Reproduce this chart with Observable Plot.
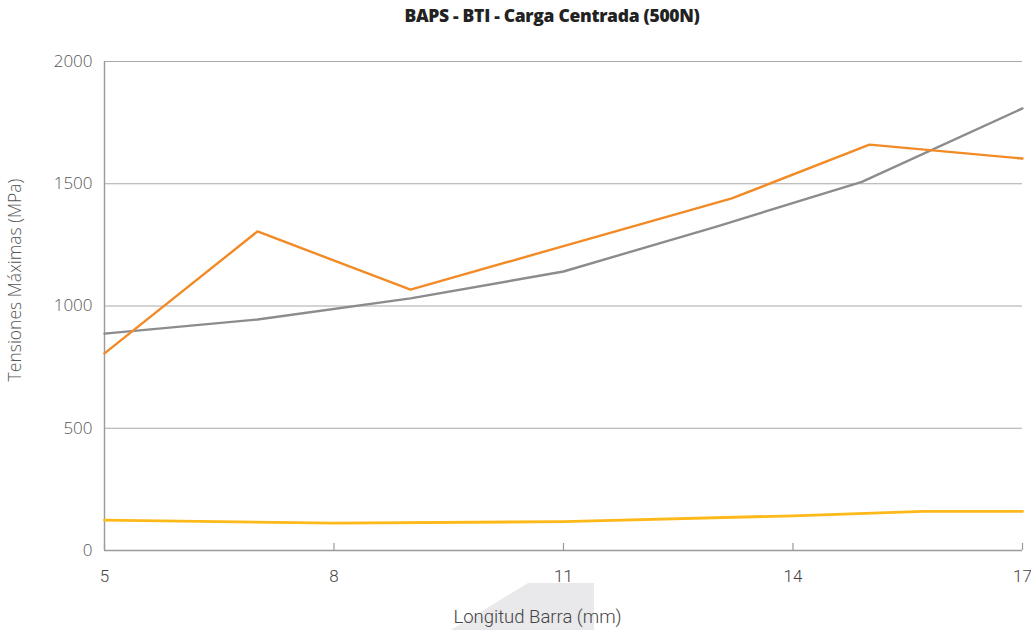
<!DOCTYPE html>
<html><head><meta charset="utf-8">
<script src="https://cdn.jsdelivr.net/npm/d3@7"></script>
<script src="https://cdn.jsdelivr.net/npm/@observablehq/plot@0.6"></script>
<style>
html,body{margin:0;padding:0;background:#fff}
body{width:1031px;height:630px;overflow:hidden;position:relative;font-family:Roboto,sans-serif}
#title{position:absolute;top:3px;left:552px;transform:translateX(-50%);white-space:nowrap;font-family:'Open Sans',sans-serif;font-weight:800;font-size:17.5px;letter-spacing:-0.3px;color:#222}
#deco{position:absolute;left:0;top:0}
#chart{position:absolute;left:0;top:36px}
#chart svg{background:transparent}
</style></head>
<body>
<svg id="deco" width="1031" height="630"><polygon points="528,583 594,583 594,630 451,630" fill="#e9e9eb"/></svg>
<div id="title">BAPS - BTI - Carga Centrada (500N)</div>
<div id="chart"></div>
<script>
// Data
const orangeX = [5, 7, 9, 11, 13.2, 15, 17];
const orangeY = [806, 1305, 1067, 1245, 1440, 1660, 1603];
const grayX = [5, 7, 9, 11, 13, 14.9, 17];
const grayY = [887, 945, 1031, 1141, 1325, 1508, 1808];
const yellowX = [5, 8, 11, 14, 15.7, 17];
const yellowY = [124, 112, 118, 142, 160, 160];
const xTicks = [5, 8, 11, 14, 17];
const yTicks = [0, 500, 1000, 1500, 2000];
const xLabel = "Longitud Barra (mm)";
const yLabel = "Tensiones Máximas (MPa)";

const rows = [];
orangeX.forEach((x, i) => rows.push({serie: "orange", x, y: orangeY[i]}));
grayX.forEach((x, i) => rows.push({serie: "gray", x, y: grayY[i]}));
yellowX.forEach((x, i) => rows.push({serie: "yellow", x, y: yellowY[i]}));

const colors = {orange: "#f28a26", gray: "#8c8c8f", yellow: "#fdb819"};

const chart = Plot.plot({
  width: 1031, height: 594,
  marginTop: 25, marginBottom: 80, marginLeft: 104, marginRight: 9,
  style: {background: "transparent", overflow: "visible"},
  x: {domain: [5, 17]},
  y: {domain: [0, 2000]},
  marks: [
    Plot.ruleY(yTicks.filter(d => d > 0), {stroke: "#a9a9a9", strokeWidth: 1.2}),
    Plot.ruleY([0], {stroke: "#9a9a9a", strokeWidth: 1.4}),
    Plot.ruleX([5], {stroke: "#9a9a9a", strokeWidth: 1.4}),
    Plot.axisX(xTicks, {tickSize: -7, stroke: "#9a9a9a", strokeWidth: 1.2, text: null, label: null}),
    Plot.axisX(xTicks, {tickSize: 0, tickPadding: 19, label: null, fontSize: 17, fill: "#444",
      fontFamily: "Roboto, sans-serif", fontWeight: 300}),
    Plot.axisY(yTicks, {tickSize: 0, tickPadding: 12, label: null, fontSize: 17, fill: "#555",
      fontFamily: "'Open Sans', sans-serif", fontWeight: 300, letterSpacing: "1px", tickFormat: d => String(d)}),
    Plot.line(rows.filter(d => d.serie === "gray"), {x: "x", y: "y", stroke: colors.gray, strokeWidth: 2.4}),
    Plot.line(rows.filter(d => d.serie === "orange"), {x: "x", y: "y", stroke: colors.orange, strokeWidth: 2.4}),
    Plot.line(rows.filter(d => d.serie === "yellow"), {x: "x", y: "y", stroke: colors.yellow, strokeWidth: 2.8}),
    Plot.text([xLabel], {frameAnchor: "bottom", dy: 72, dx: -26, fontSize: 18.5, fill: "#444",
      fontFamily: "Roboto, sans-serif", fontWeight: 300}),
    Plot.text([yLabel], {frameAnchor: "left", textAnchor: "middle", rotate: -90, dx: -89, dy: -26, fontSize: 17.5, fill: "#555",
      fontFamily: "'Open Sans', sans-serif", fontWeight: 300, letterSpacing: "1.2px"})
  ]
});
document.getElementById("chart").appendChild(chart);
</script>
</body></html>
